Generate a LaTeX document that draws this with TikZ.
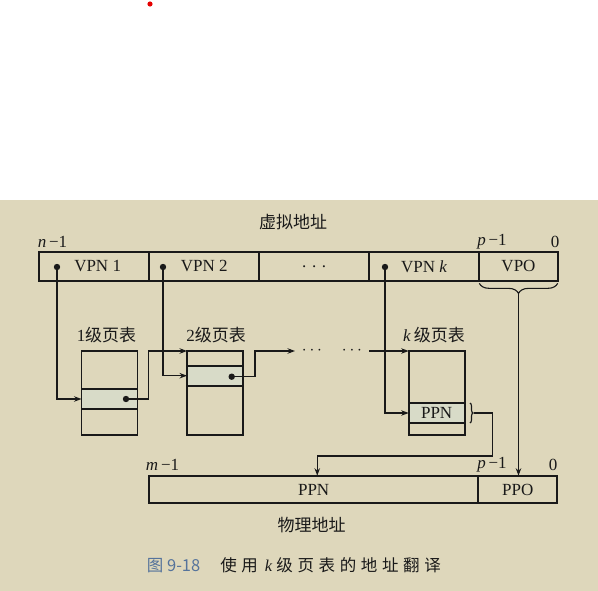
\documentclass[tikz,border=0pt]{standalone}
\usepackage{fontspec}
\setmainfont{Liberation Serif}
\newfontfamily\cjk{Noto Sans CJK SC}
\newfontfamily\capcjk[LetterSpace=28]{Noto Sans CJK SC}
\usetikzlibrary{arrows.meta, positioning, decorations.pathreplacing}
\definecolor{paper}{RGB}{222,215,187}
\definecolor{rowfill}{RGB}{216,219,200}
\definecolor{capblue}{RGB}{85,115,155}
\definecolor{ink}{RGB}{25,25,25}

\begin{document}
\begin{tikzpicture}[x=1pt, y=-1pt,
    cell/.style={draw=ink, text=ink, line width=1.8pt, minimum height=28.7pt, inner sep=0pt, outer sep=0pt, font=\fontsize{17}{20}\selectfont},
    ptable/.style={draw=ink, line width=1.8pt, minimum width=56pt, minimum height=84pt, inner sep=0pt, outer sep=0pt},
    prow/.style={draw=ink, text=ink, line width=1.8pt, fill=rowfill, minimum width=56pt, inner sep=0pt, outer sep=0pt, font=\fontsize{17}{20}\selectfont},
    link/.style={draw=ink, line width=1.1pt, -{Stealth[length=7.5pt, width=5.5pt]}},
    lbl/.style={text=ink, inner sep=0pt, font=\fontsize{17}{20}\selectfont},
    bracedeco/.style={draw=ink, line width=1.1pt, decorate, decoration={brace, amplitude=#1}}
]
\useasboundingbox (0,0) rectangle (598,591);
\fill[paper] (0,200) rectangle (598,591);
\fill[red!90!black] (150,4) circle (2.6pt);

% Virtual address
\node[lbl] (va) at (293,222) {\cjk 虚拟地址};
\node[cell, minimum width=110.3pt] (vpn1) at (94.15,266.5) {\hspace{7pt}VPN 1};
\node[cell, minimum width=110pt] (vpn2) at (204.3,266.5) {VPN 2};
\node[cell, minimum width=109.7pt] (vdots) at (314.15,266.5) {.\,\,.\,\,.};
\node[cell, minimum width=110.3pt] (vpnk) at (424.15,266.5) {VPN \textit{k}};
\node[cell, minimum width=78.4pt] (vpo) at (518.5,266.5) {VPO};

\node[lbl] (n1) at (52.5,242) {\textit{n}\,−1};
\node[lbl] (p1) at (492,242) {\textit{p}\,−1};
\node[lbl] (z1) at (555,242) {0};

\foreach \c/\x in {d1/57, d2/163, dk/385} {
    \coordinate (\c) at (\x,267);
    \fill[ink] (\c) circle (3.2pt);
}

% Page tables
\node[ptable] (t1) at (109.5,393) {};
\node[prow, minimum height=20pt] (r1) at (109.5,399) {};
\node[ptable] (t2) at (215,393) {};
\node[prow, minimum height=20pt] (r2) at (215,375.7) {};
\node[ptable] (tk) at (436.65,393) {};
\node[prow, minimum height=20.6pt] (rk) at (436.65,413) {PPN};

\node[lbl] (l1) at (106.5,335) {1{\cjk 级页表}};
\node[lbl] (l2) at (216,335) {2{\cjk 级页表}};
\node[lbl] (lk) at (434,335) {\textit{k}\,{\cjk 级页表}};

\coordinate (e1) at (126,399);
\coordinate (e2) at (231.7,376.7);
\fill[ink] (e1) circle (3.2pt);
\fill[ink] (e2) circle (3.2pt);

% VPN pointers into the tables
\draw[link] (d1) |- (r1.west);
\draw[link] (d2) |- (r2.west);
\draw[link] (dk) |- (rk.west);

% Table to table
\draw[link] (e1) -- ++(22.3,0) |- (t2.north west);
\coordinate (m1) at (295,351);
\draw[link] (e2) -- ++(23.3,0) |- (m1);
\node[lbl] (c1) at (312,351) {$\cdots$};
\node[lbl] (c2) at (352,351) {$\cdots$};
\coordinate (m2) at (369.3,351);
\draw[link] (m2) -- (tk.north west);

% Physical address
\node[cell, minimum width=329.3pt, minimum height=27.6pt] (ppn) at (313.65,489.5) {PPN};
\node[cell, minimum width=79pt, minimum height=27.6pt] (ppo) at (517.8,489.5) {PPO};

\node[lbl] (m3) at (162.5,465) {\textit{m}\,−1};
\node[lbl] (p2) at (492,465) {\textit{p}\,−1};
\node[lbl] (z2) at (553,465) {0};
\node[lbl] (pa) at (311.7,525) {\cjk 物理地址};

% PPN and VPO down to the physical address
\draw[bracedeco=3pt] (470,403) -- (470,423);
\coordinate (bk) at (474,413);
\draw[link] (bk) -- ++(18.3,0) -- ++(0,43) -| ([xshift=3.6pt]ppn.north);

\draw[bracedeco=10pt, decoration={mirror}] ([yshift=-2.5pt]vpo.south west) -- ([yshift=-2.5pt]vpo.south east);
\coordinate (bv) at ([yshift=-12.5pt]vpo.south);
\draw[link] (bv) -- (bv |- ppo.north);

% Caption
\node[lbl, anchor=west, font=\fontsize{16.5}{20}\selectfont] (cap) at (146.7,565)
    {{\color{capblue}\cjk 图 9-18}\hspace{20pt}{\capcjk 使用}\hspace{7pt}\textit{k}\hspace{4pt}{\capcjk 级页表的地址翻译}};

\end{tikzpicture}
\end{document}
